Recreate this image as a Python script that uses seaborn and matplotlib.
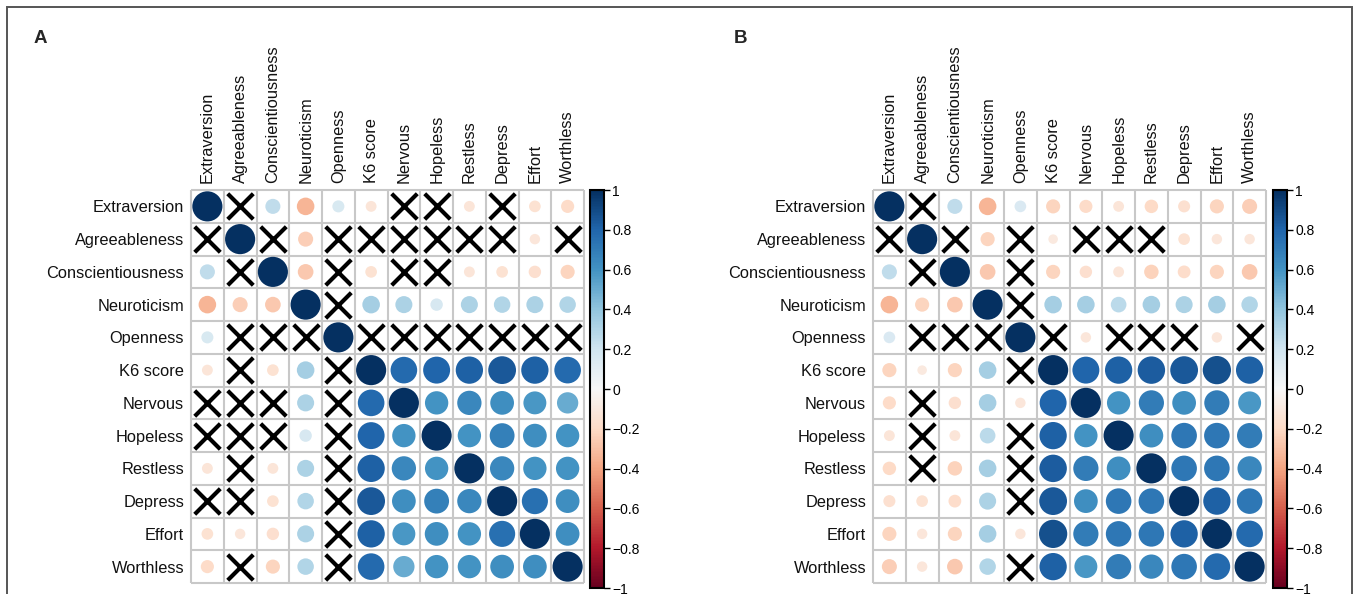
import numpy as np
import pandas as pd
import seaborn as sns
import matplotlib.pyplot as plt
from matplotlib.patches import Rectangle
from matplotlib.cm import ScalarMappable
from matplotlib.colors import Normalize

nan = np.nan

labels = ["Extraversion", "Agreeableness", "Conscientiousness", "Neuroticism",
          "Openness", "K6 score", "Nervous", "Hopeless", "Restless", "Depress",
          "Effort", "Worthless"]

# upper triangle, row by row (j > i); nan = not significant (drawn as X)
upper_a = [
    [nan, 0.25, -0.34, 0.16, -0.13, nan, nan, -0.13, nan, -0.15, -0.19],
    [nan, -0.25, nan, nan, nan, nan, nan, nan, -0.12, nan],
    [-0.27, nan, -0.15, nan, nan, -0.13, -0.15, -0.17, -0.22],
    [nan, 0.34, 0.32, 0.17, 0.32, 0.30, 0.32, 0.30],
    [nan, nan, nan, nan, nan, nan, nan],
    [0.78, 0.80, 0.82, 0.85, 0.82, 0.78],
    [0.60, 0.65, 0.62, 0.58, 0.50],
    [0.60, 0.68, 0.62, 0.60],
    [0.65, 0.60, 0.60],
    [0.75, 0.62],
    [0.62],
]

upper_b = [
    [nan, 0.25, -0.34, 0.15, -0.22, -0.19, -0.13, -0.20, -0.16, -0.22, -0.25],
    [nan, -0.22, nan, -0.10, nan, nan, nan, -0.15, -0.12, -0.12],
    [-0.27, nan, -0.22, -0.17, -0.13, -0.23, -0.18, -0.22, -0.27],
    [nan, 0.34, 0.34, 0.27, 0.34, 0.32, 0.34, 0.30],
    [nan, -0.12, nan, nan, nan, -0.12, nan],
    [0.80, 0.82, 0.83, 0.85, 0.88, 0.82],
    [0.60, 0.70, 0.62, 0.70, 0.58],
    [0.62, 0.72, 0.72, 0.70],
    [0.72, 0.72, 0.65],
    [0.82, 0.72],
    [0.78],
]

cbar_ticks = [1, 0.8, 0.6, 0.4, 0.2, 0, -0.2, -0.4, -0.6, -0.8, -1]
cbar_labels = ["1", "0.8", "0.6", "0.4", "0.2", "0", "\u22120.2", "\u22120.4",
               "\u22120.6", "\u22120.8", "\u22121"]


def to_long(upper):
    n = len(labels)
    m = np.eye(n)
    for i, row in enumerate(upper):
        for k, v in enumerate(row):
            j = i + 1 + k
            m[i, j] = v
            m[j, i] = v
    rows = []
    for i in range(n):
        for j in range(n):
            rows.append({"row": i, "col": j, "r": m[i, j]})
    df = pd.DataFrame(rows)
    df["absr"] = df["r"].abs()
    return df


sns.set_theme(style="white")
plt.rcParams["font.family"] = ["Liberation Sans", "DejaVu Sans"]

W, H = 1357, 594
fig = plt.figure(figsize=(W / 100, H / 100), dpi=100)

# outer frame
fig.patches.append(Rectangle((7 / W, -0.1), (1352 - 7) / W, 1.1 - 7 / H,
                             transform=fig.transFigure, fill=False,
                             edgecolor="#555555", lw=1.4))

n = len(labels)
panels = [("A", upper_a, 191, 590, 34), ("B", upper_b, 873, 1273, 734)]
grid_top, grid_size = 190, 393

for letter, upper, gx, cx, lx in panels:
    df = to_long(upper)
    ax = fig.add_axes([gx / W, 1 - (grid_top + grid_size) / H, grid_size / W, grid_size / H])
    cell_pt = grid_size / n * 0.72
    smax = (0.92 * cell_pt) ** 2

    sig = df[df["r"].notna()]
    sns.scatterplot(data=sig, x="col", y="row", hue="r", palette="RdBu",
                    hue_norm=(-1, 1), size="absr", sizes=(0, smax),
                    size_norm=(0, 1), edgecolor="none", legend=False, ax=ax)
    ns = df[df["r"].isna()]
    sns.scatterplot(data=ns, x="col", y="row", marker="x", color="black",
                    s=(0.78 * cell_pt) ** 2, linewidth=3.0, legend=False, ax=ax)

    ax.set_xlim(-0.5, n - 0.5)
    ax.set_ylim(n - 0.5, -0.5)
    ax.hlines(np.arange(-0.5, n), -0.5, n - 0.5, color="#c8c8c8", lw=1.5, clip_on=False, zorder=0)
    ax.vlines(np.arange(-0.5, n), -0.5, n - 0.5, color="#c8c8c8", lw=1.5, clip_on=False, zorder=0)
    for s in ax.spines.values():
        s.set_visible(False)
    ax.set_xlabel("")
    ax.set_ylabel("")
    ax.xaxis.tick_top()
    ax.set_xticks(range(n))
    ax.set_xticklabels(labels, rotation=90, fontsize=11.8, color="#111111")
    ax.set_yticks(range(n))
    ax.set_yticklabels(labels, fontsize=11.8, color="#111111")
    ax.tick_params(length=0, pad=5)

    cax = fig.add_axes([cx / W, 1 - 588 / H, 14 / W, (588 - grid_top) / H])
    sm = ScalarMappable(norm=Normalize(-1, 1), cmap="RdBu")
    cb = fig.colorbar(sm, cax=cax)
    cb.set_ticks(cbar_ticks)
    cb.set_ticklabels(cbar_labels)
    cb.outline.set_edgecolor("black")
    cb.outline.set_linewidth(1.5)
    cax.tick_params(axis="y", length=4, width=1, direction="out", labelsize=10,
                    pad=2, colors="black")

    fig.text(lx / W, 1 - 43 / H, letter, fontsize=13.5, fontweight="bold",
             ha="left", va="baseline")

fig.savefig("out.png", dpi=100)
